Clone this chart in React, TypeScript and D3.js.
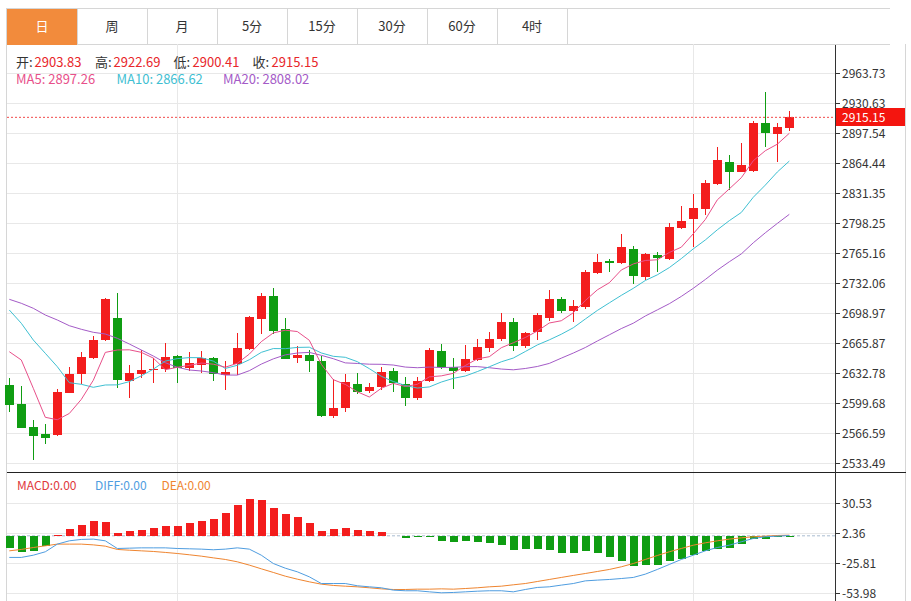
import React from 'react';
import * as d3 from 'd3';

const tabs = ['日', '周', '月', '5分', '15分', '30分', '60分', '4时'];

const opens = [
  2619.87, 2598.91, 2573.21, 2565.81, 2564.71, 2611.38, 2631.67, 2649.66, 2669.18, 2693.45,
  2624.61, 2632.0, 2636.09, 2637.19, 2652.19, 2638.95, 2642.26, 2649.32, 2630.9, 2643.04,
  2659.58, 2692.68, 2718.05, 2681.32, 2649.32, 2652.96, 2646.35, 2585.2, 2594.83, 2620.97,
  2613.25, 2617.33, 2635.64, 2620.97, 2605.86, 2624.61, 2657.71, 2640.06, 2635.64, 2647.45,
  2661.02, 2670.28, 2689.04, 2662.89, 2678.67, 2693.45, 2714.74, 2701.84, 2706.25, 2743.76,
  2756.66, 2754.13, 2769.57, 2739.34, 2763.28, 2758.54, 2793.4, 2802.66, 2813.7, 2841.28,
  2865.88, 2855.18, 2856.28, 2908.57, 2896.77, 2903.83,
];
const highs = [
  2627.92, 2619.1, 2581.26, 2576.52, 2615.13, 2639.4, 2656.61, 2673.92, 2715.85, 2721.69,
  2641.93, 2658.48, 2649.32, 2666.53, 2652.96, 2655.94, 2657.38, 2650.43, 2646.35, 2676.9,
  2695.99, 2721.03, 2726.55, 2693.45, 2663.22, 2658.48, 2651.86, 2626.49, 2632.0, 2633.44,
  2622.41, 2640.06, 2638.29, 2628.36, 2628.36, 2660.36, 2665.1, 2649.32, 2664.0, 2670.28,
  2678.67, 2698.97, 2693.45, 2678.67, 2698.97, 2724.67, 2717.28, 2713.64, 2746.73, 2764.05,
  2758.87, 2786.45, 2773.21, 2765.16, 2766.26, 2798.25, 2817.34, 2830.58, 2846.02, 2882.09,
  2873.6, 2887.17, 2911.44, 2943.43, 2909.23, 2922.69,
];
const lows = [
  2590.42, 2572.1, 2537.13, 2555.11, 2563.5, 2610.5, 2620.64, 2648.9, 2668.5, 2616.23,
  2605.86, 2627.92, 2621.74, 2634.54, 2622.41, 2635.31, 2633.44, 2624.28, 2614.35, 2630.9,
  2658.48, 2676.13, 2676.13, 2648.22, 2643.81, 2633.88, 2584.9, 2583.8, 2590.42, 2609.61,
  2610.71, 2614.35, 2612.48, 2596.7, 2603.32, 2623.51, 2637.19, 2615.46, 2634.54, 2646.35,
  2656.61, 2668.74, 2657.71, 2661.02, 2669.51, 2690.47, 2698.97, 2689.7, 2703.71, 2742.32,
  2744.86, 2753.5, 2731.29, 2735.7, 2744.86, 2758.0, 2791.63, 2772.44, 2807.41, 2840.9,
  2834.99, 2854.6, 2855.18, 2882.76, 2866.21, 2900.41,
];
const closes = [
  2597.81, 2572.76, 2563.94, 2561.07, 2612.15, 2632.34, 2650.43, 2669.51, 2714.74, 2625.39,
  2633.44, 2636.42, 2637.85, 2650.43, 2638.95, 2643.81, 2649.32, 2631.67, 2633.88, 2660.36,
  2694.55, 2718.05, 2679.77, 2648.9, 2652.96, 2646.35, 2585.6, 2594.83, 2622.85, 2612.48,
  2617.33, 2633.88, 2621.74, 2605.53, 2624.61, 2658.48, 2639.4, 2635.64, 2648.55, 2661.46,
  2670.28, 2689.04, 2662.89, 2677.57, 2697.09, 2714.74, 2701.5, 2707.02, 2744.86, 2755.89,
  2754.13, 2771.78, 2740.45, 2764.05, 2759.64, 2794.5, 2800.79, 2814.8, 2842.38, 2868.08,
  2855.18, 2862.24, 2908.57, 2897.54, 2904.16, 2915.15,
];

// moving-average values before each window is complete
const ma5Lead = [2656.61, 2647.45, 2616.23, 2584.24];
const ma10Lead = [2702.61, 2687.94, 2669.51, 2654.84, 2640.06, 2622.41, 2620.64, 2617.33, 2619.87];
const ma20Lead = [
  2714.41, 2710.0, 2704.49, 2697.09, 2691.58, 2685.29, 2681.32, 2678.01, 2676.13, 2671.39,
  2665.1, 2658.48, 2651.86, 2644.47, 2639.4, 2636.42, 2635.32, 2633.44, 2630.9,
];

const macdBars = [
  -11.3, -15.0, -14.1, -9.7, 0.3, 6.3, 10.6, 13.8, 13.1, 3.1,
  4.7, 5.9, 7.5, 9.4, 9.4, 11.9, 14.1, 15.6, 21.6, 29.1,
  34.1, 33.5, 26.0, 20.7, 17.5, 11.9, 4.4, 6.3, 7.5, 5.3,
  4.7, 3.4, 0.2, -1.9, -0.3, -0.3, -4.7, -5.6, -5.0, -5.6,
  -7.2, -8.8, -13.5, -12.8, -12.5, -13.5, -16.6, -16.0, -14.4, -16.6,
  -20.3, -23.5, -28.2, -27.5, -27.5, -23.5, -22.2, -18.2, -14.4, -12.5,
  -11.3, -7.8, -3.1, -2.8, -1.0, -0.3,
];
const diffs = [
  -20.3, -20.3, -18.2, -15.0, -7.8, -4.7, -3.4, -3.1, -4.7, -11.9,
  -11.6, -11.3, -11.3, -11.3, -11.9, -12.2, -12.5, -13.1, -12.5, -11.3,
  -12.5, -18.2, -26.0, -30.4, -33.8, -38.5, -44.8, -44.8, -44.8, -46.9,
  -47.9, -48.8, -51.0, -51.6, -51.6, -52.6, -53.5, -53.2, -52.6, -52.0,
  -51.6, -51.6, -52.6, -50.4, -48.5, -47.9, -46.3, -44.8, -42.3, -41.6,
  -41.0, -40.1, -39.1, -36.0, -31.6, -26.9, -22.2, -18.2, -14.1, -11.0,
  -8.8, -5.6, -2.5, -0.9, -0.3, 0.3,
];
const deas = [
  -14.1, -12.8, -11.0, -9.4, -7.8, -7.8, -7.8, -8.5, -9.7, -12.8,
  -13.5, -14.1, -14.7, -15.6, -16.6, -17.8, -19.1, -20.7, -22.2, -24.4,
  -27.5, -31.0, -34.4, -37.9, -40.7, -43.2, -45.4, -46.6, -47.3, -47.9,
  -48.8, -49.8, -50.4, -50.4, -50.1, -50.1, -49.8, -50.1, -49.5, -48.8,
  -47.9, -47.3, -46.0, -44.8, -42.9, -41.0, -39.1, -37.2, -35.4, -33.5,
  -31.6, -29.1, -26.0, -22.2, -18.5, -15.0, -11.9, -8.8, -6.6, -4.7,
  -3.1, -1.9, -0.9, -0.3, 0.3, 0.6,
];

const priceTicks = [
  2963.73, 2930.63, 2897.54, 2864.44, 2831.35, 2798.25, 2765.16, 2732.06,
  2698.97, 2665.87, 2632.78, 2599.68, 2566.59, 2533.49,
];
const macdTicks = [30.53, 2.36, -25.81, -53.98];
const lastPrice = 2915.15;
const ohlcLegend = [
  { label: '开:', value: '2903.83', x: 16, vx: 34.5 },
  { label: '高:', value: '2922.69', x: 95, vx: 113.5 },
  { label: '低:', value: '2900.41', x: 173.5, vx: 192.5 },
  { label: '收:', value: '2915.15', x: 252.5, vx: 271.5 },
];
const maLegend = [
  { text: 'MA5: 2897.26', color: '#e8508a', x: 16 },
  { text: 'MA10: 2866.62', color: '#3fc0d2', x: 116.5 },
  { text: 'MA20: 2808.02', color: '#a45bc7', x: 223 },
];
const macdLegend = [
  { text: 'MACD:0.00', color: '#e0393c', x: 17 },
  { text: 'DIFF:0.00', color: '#4f9de0', x: 95 },
  { text: 'DEA:0.00', color: '#ef8530', x: 161.5 },
];

const RED = '#f31d1d';
const GREEN = '#0f9d12';
const GRID = '#e8e8e8';
const BORDER = '#d6d6d6';
const FONT = '"Microsoft YaHei", "Noto Sans CJK SC", "Noto Sans", sans-serif';

function movingAvg(n: number, lead: number[]): number[] {
  return closes.map((c, i) =>
    i < n - 1 ? lead[i] : (d3.mean(closes.slice(i - n + 1, i + 1)) as number)
  );
}

export default function App() {
  const W = 911;
  const H = 601;
  const left = 7;
  const axisX = 835;
  const rightEdge = 905;
  const mainTop = 44;
  const mainBottom = 473;

  const n = closes.length;
  const x = d3.scaleLinear().domain([0, n - 1]).range([9.3, 789.3]);
  const y = d3.scaleLinear().domain([2533.49, 2963.73]).range([463.3, 73.3]);
  const ym = d3.scaleLinear().domain([-53.98, 30.53]).range([593.3, 503.3]);

  const ma5 = movingAvg(5, ma5Lead);
  const ma10 = movingAvg(10, ma10Lead);
  const ma20 = movingAvg(20, ma20Lead);

  const lineP = d3.line<number>().x((_, i) => x(i)).y((d) => y(d));
  const lineM = d3.line<number>().x((_, i) => x(i)).y((d) => ym(d));

  const bodyW = 9;
  const barW = 8;
  const vGridIdx = [14, 57];

  return (
    <svg
      width={W}
      height={H}
      style={{ position: 'absolute', left: 0, top: 0, background: '#fff' }}
      fontFamily={FONT}
    >
      <rect x={0} y={0} width={W} height={H} fill="#fff" />

      {/* tab bar */}
      <g shapeRendering="crispEdges">
        <line x1={left} x2={890} y1={8.5} y2={8.5} stroke={BORDER} />
        <line x1={left} x2={890} y1={44.5} y2={44.5} stroke={BORDER} />
        {tabs.map((t, i) => (
          <g key={t}>
            {i === 0 && <rect x={left} y={9} width={70} height={35.5} fill="#f28b3c" />}
            <line x1={left + 70 * (i + 1) + 0.5} x2={left + 70 * (i + 1) + 0.5} y1={8.5} y2={44.5} stroke={BORDER} />
          </g>
        ))}
      </g>
      {tabs.map((t, i) => (
        <text
          key={'t' + t}
          x={left + 70 * i + 35}
          y={31}
          textAnchor="middle"
          fontSize={13}
          fill={i === 0 ? '#fff' : '#333'}
        >
          {t}
        </text>
      ))}

      {/* frame */}
      <g shapeRendering="crispEdges">
        <line x1={left - 0.5} x2={left - 0.5} y1={8} y2={H} stroke={BORDER} />
        <line x1={rightEdge + 0.5} x2={rightEdge + 0.5} y1={mainTop} y2={H} stroke={BORDER} />
        {/* horizontal grid main */}
        {priceTicks.map((t) => (
          <line key={'g' + t} x1={left} x2={axisX} y1={Math.round(y(t)) + 0.5} y2={Math.round(y(t)) + 0.5} stroke={GRID} />
        ))}
        {macdTicks.map((t) => (
          <line key={'gm' + t} x1={left} x2={axisX} y1={Math.round(ym(t)) + 0.5} y2={Math.round(ym(t)) + 0.5} stroke={GRID} />
        ))}
        {vGridIdx.map((i) => (
          <line key={'v' + i} x1={Math.round(x(i)) + 0.5} x2={Math.round(x(i)) + 0.5} y1={mainTop} y2={H} stroke={GRID} />
        ))}
      </g>

      {/* legends */}
      {ohlcLegend.map((d) => (
        <g key={d.label}>
          <text x={d.x} y={66.5} fontSize={13} fill="#333">{d.label}</text>
          <text x={d.vx} y={66.5} fontSize={13} fill="#e8262a">{d.value}</text>
        </g>
      ))}
      {maLegend.map((d) => (
        <text key={d.text} x={d.x} y={84} fontSize={13} fill={d.color}>{d.text}</text>
      ))}

      {/* candles */}
      <g>
        {closes.map((c, i) => {
          const o = opens[i];
          const up = c >= o;
          const col = up ? RED : GREEN;
          const cx = Math.round(x(i)) + 0.5;
          const top = y(Math.max(o, c));
          const bot = y(Math.min(o, c));
          return (
            <g key={'c' + i} shapeRendering="crispEdges">
              <line x1={cx} x2={cx} y1={y(highs[i])} y2={y(lows[i])} stroke={col} strokeWidth={1} />
              <rect x={cx - bodyW / 2} y={top} width={bodyW} height={Math.max(1.2, bot - top)} fill={col} />
            </g>
          );
        })}
      </g>

      {/* moving averages */}
      <path d={lineP(ma20) || ''} fill="none" stroke="#a45bc7" strokeWidth={1} />
      <path d={lineP(ma10) || ''} fill="none" stroke="#3fc0d2" strokeWidth={1} />
      <path d={lineP(ma5) || ''} fill="none" stroke="#e8508a" strokeWidth={1} />

      {/* last price line */}
      <line x1={left} x2={axisX} y1={y(lastPrice)} y2={y(lastPrice)} stroke="#f24a4a" strokeDasharray="2,2" />

      {/* panel separators and axis */}
      <g shapeRendering="crispEdges">
        <line x1={left} x2={rightEdge + 1} y1={mainBottom - 0.5} y2={mainBottom - 0.5} stroke="#222" />
        <line x1={axisX + 0.5} x2={axisX + 0.5} y1={mainTop + 1} y2={H} stroke="#333" />
        {priceTicks.map((t) => (
          <line key={'tk' + t} x1={axisX} x2={axisX + 5} y1={Math.round(y(t)) + 0.5} y2={Math.round(y(t)) + 0.5} stroke="#333" />
        ))}
        {macdTicks.map((t) => (
          <line key={'tkm' + t} x1={axisX} x2={axisX + 5} y1={Math.round(ym(t)) + 0.5} y2={Math.round(ym(t)) + 0.5} stroke="#333" />
        ))}
      </g>
      {priceTicks.map((t) => (
        <text key={'l' + t} x={842} y={y(t)} dy="0.36em" fontSize={12} fill="#333">
          {t.toFixed(2)}
        </text>
      ))}
      {macdTicks.map((t) => (
        <text key={'lm' + t} x={842} y={ym(t)} dy="0.36em" fontSize={12} fill="#333">
          {t.toFixed(2)}
        </text>
      ))}

      {/* last price tag */}
      <rect x={836} y={y(lastPrice) - 9} width={69} height={18} fill="#f4150f" shapeRendering="crispEdges" />
      <text x={842} y={y(lastPrice)} dy="0.36em" fontSize={12} fill="#fff">
        {lastPrice.toFixed(2)}
      </text>

      {/* MACD panel */}
      {macdLegend.map((d) => (
        <text key={d.text} x={d.x} y={489.5} fontSize={12} fill={d.color}>{d.text}</text>
      ))}
      <line x1={left} x2={axisX} y1={ym(0)} y2={ym(0)} stroke="#a9bdd0" strokeDasharray="3,2" />
      <g shapeRendering="crispEdges">
        {macdBars.map((v, i) => {
          const cx = Math.round(x(i)) + 0.5;
          const y0 = ym(0);
          const y1 = ym(v);
          return (
            <rect
              key={'m' + i}
              x={cx - barW / 2}
              y={Math.min(y0, y1)}
              width={barW}
              height={Math.max(0.8, Math.abs(y1 - y0))}
              fill={v >= 0 ? RED : GREEN}
            />
          );
        })}
      </g>
      <path d={lineM(deas) || ''} fill="none" stroke="#ef8530" strokeWidth={1} />
      <path d={lineM(diffs) || ''} fill="none" stroke="#4f9de0" strokeWidth={1} />
    </svg>
  );
}
